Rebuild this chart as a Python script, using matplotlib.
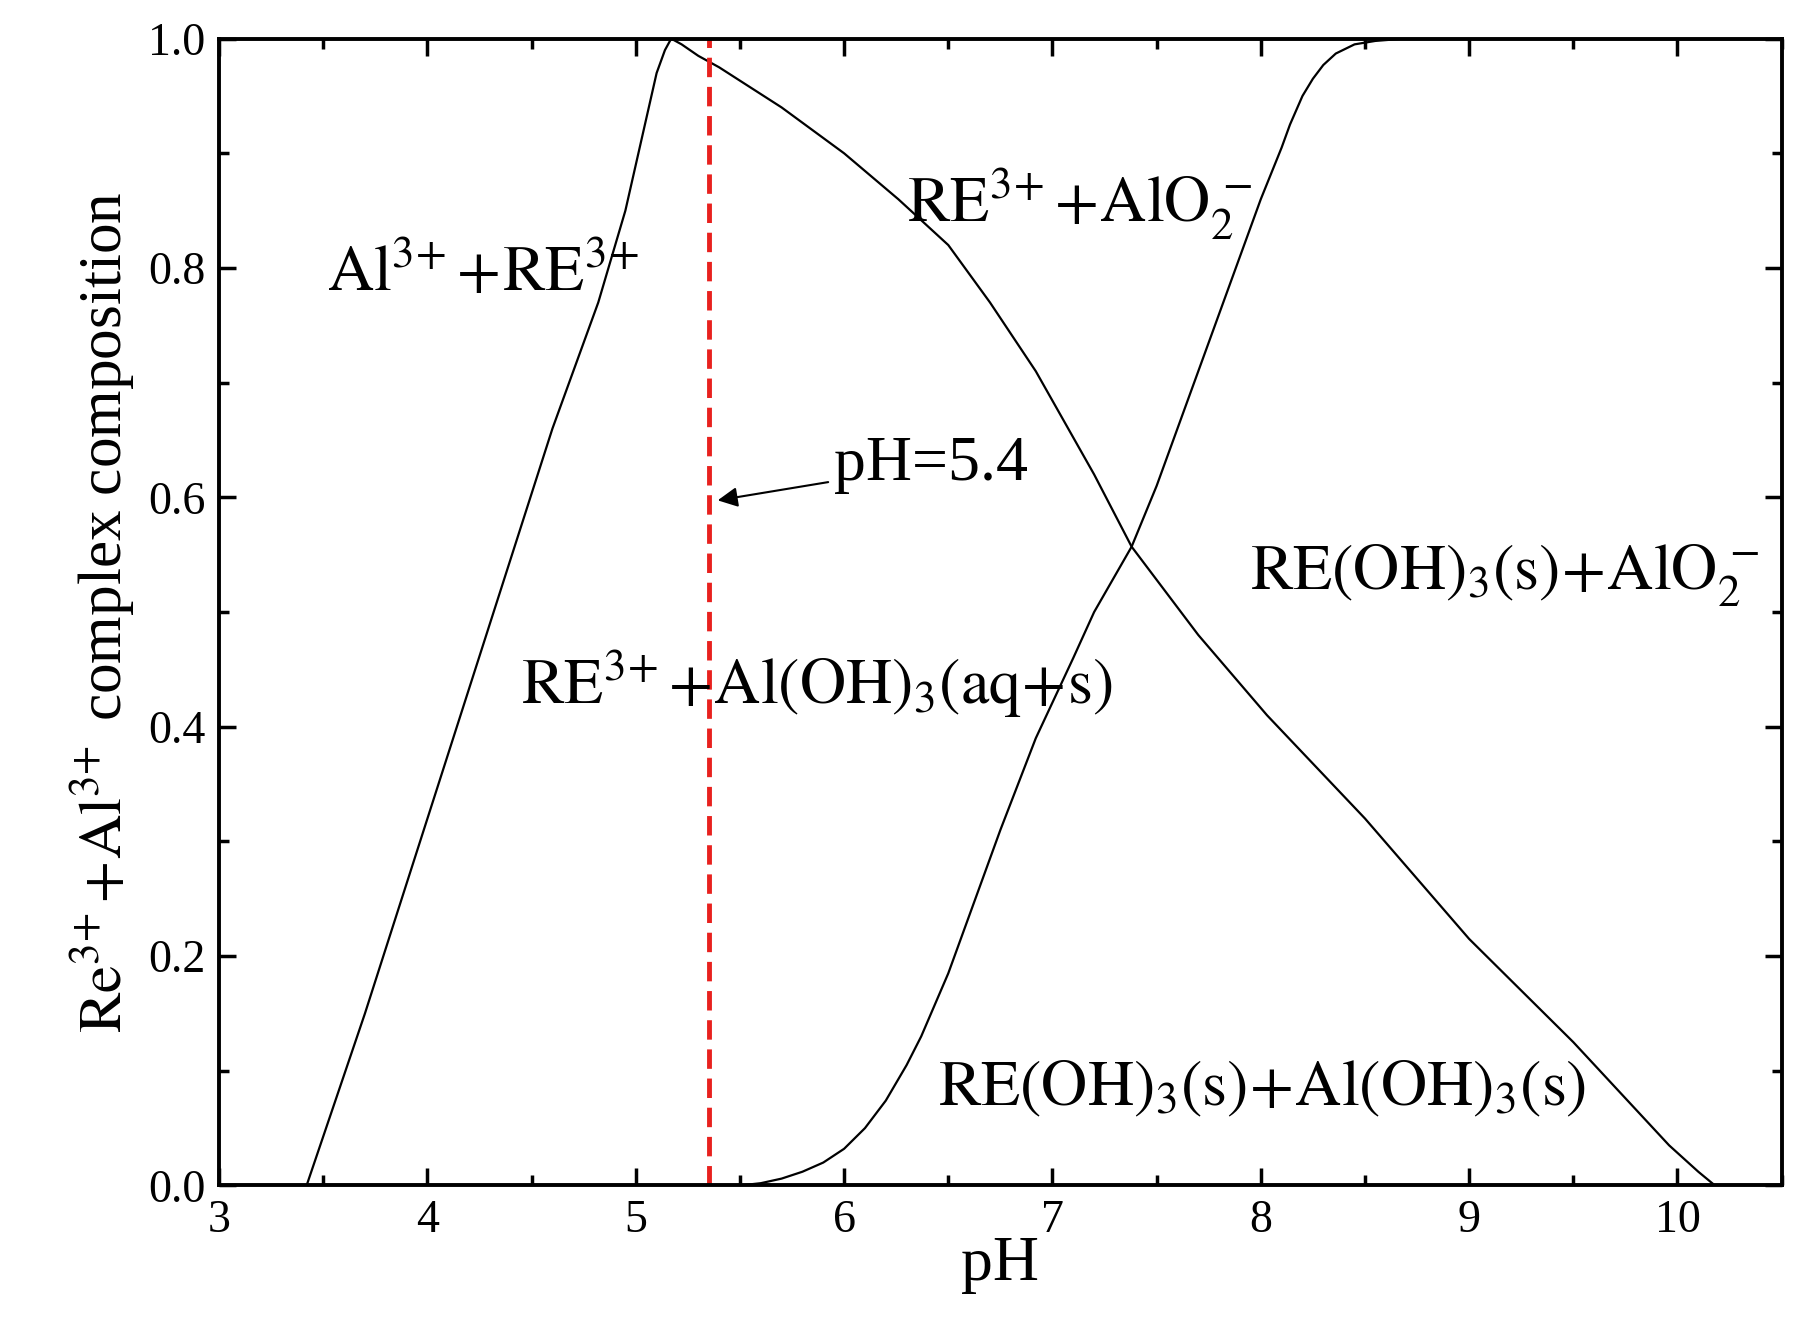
import matplotlib
matplotlib.use("Agg")
import matplotlib.pyplot as plt
from matplotlib.ticker import MultipleLocator

plt.rcParams['font.family'] = ['Liberation Serif', 'DejaVu Serif']
plt.rcParams['mathtext.fontset'] = 'stix'

# Al3+ / RE3+ boundary curve (rise then fall)
ph_a = [3.42, 3.7, 4.0, 4.3, 4.6, 4.82, 4.95, 5.05, 5.1, 5.14, 5.17, 5.22, 5.3, 5.4, 5.7, 6.0,
        6.26, 6.5, 6.7, 6.92, 7.2, 7.38, 7.7, 8.03, 8.5, 9.0, 9.5, 9.96, 10.1, 10.18]
y_a = [0.0, 0.15, 0.32, 0.49, 0.66, 0.77, 0.85, 0.93, 0.97, 0.99, 1.0, 0.995, 0.985, 0.975, 0.94, 0.90,
       0.86, 0.82, 0.77, 0.71, 0.62, 0.557, 0.48, 0.41, 0.32, 0.215, 0.125, 0.035, 0.012, 0.0]
# RE(OH)3 precipitation curve
ph_b = [5.5, 5.6, 5.7, 5.8, 5.9, 6.0, 6.1, 6.2, 6.3, 6.37, 6.5, 6.6, 6.75, 6.92, 7.1, 7.2,
        7.38, 7.5, 7.6, 7.75, 7.86, 8.0, 8.1, 8.14, 8.2, 8.25, 8.3, 8.36, 8.45, 8.55, 8.69, 8.8]
y_b = [0.0, 0.002, 0.006, 0.012, 0.02, 0.032, 0.05, 0.074, 0.105, 0.13, 0.185, 0.235, 0.31, 0.39, 0.46, 0.50,
       0.557, 0.61, 0.66, 0.735, 0.79, 0.86, 0.905, 0.925, 0.95, 0.965, 0.977, 0.987, 0.995, 0.998, 1.0, 1.0]
ph_line = 5.35

fig = plt.figure(figsize=(17.96, 13.32), dpi=100)
ax = fig.add_axes([0.122, 0.110, 0.870, 0.861])
ax.plot(ph_a, y_a, color='black', lw=1.6)
ax.plot(ph_b, y_b, color='black', lw=1.6)
ax.axvline(ph_line, color='#e8211e', ls=(0, (4, 2)), lw=3.5)

ax.set_xlim(3, 10.5)
ax.set_ylim(0, 1.0)
ax.xaxis.set_major_locator(MultipleLocator(1))
ax.xaxis.set_minor_locator(MultipleLocator(0.5))
ax.yaxis.set_major_locator(MultipleLocator(0.2))
ax.yaxis.set_minor_locator(MultipleLocator(0.1))
ax.yaxis.set_major_formatter(matplotlib.ticker.FormatStrFormatter('%.1f'))
ax.tick_params(which='both', direction='in', top=True, right=True, width=2.5, labelsize=33)
ax.tick_params(which='major', length=12, pad=10)
ax.tick_params(which='minor', length=7)
for s in ax.spines.values():
    s.set_linewidth(2.8)

ax.set_xlabel('pH', fontsize=46, labelpad=-4)
ax.set_ylabel(r'$\mathrm{Re^{3\!+}\!+\!Al^{3\!+}}$ complex composition', fontsize=44, labelpad=8)

fs = 46
ax.text(3.52, 0.78, r'$\mathrm{Al^{3\!+}\!+\!RE^{3\!+}}$', fontsize=fs)
ax.text(6.3, 0.84, r'$\mathrm{RE^{3\!+}\!+\!AlO_2^{\,-}}$', fontsize=fs)
ax.text(4.45, 0.42, r'$\mathrm{RE^{3\!+}\!+\!Al(OH)_3(aq\!+\!s)}$', fontsize=fs)
ax.text(7.95, 0.52, r'$\mathrm{RE(OH)_3(s)\!+\!AlO_2^{\,-}}$', fontsize=fs)
ax.text(6.45, 0.07, r'$\mathrm{RE(OH)_3(s)\!+\!Al(OH)_3(s)}$', fontsize=fs)
ax.annotate('pH=5.4', xy=(5.38, 0.597), xytext=(5.95, 0.615), fontsize=fs,
            arrowprops=dict(arrowstyle='-|>', color='black', lw=1.5, mutation_scale=30))

fig.savefig('out.png', dpi=100)
